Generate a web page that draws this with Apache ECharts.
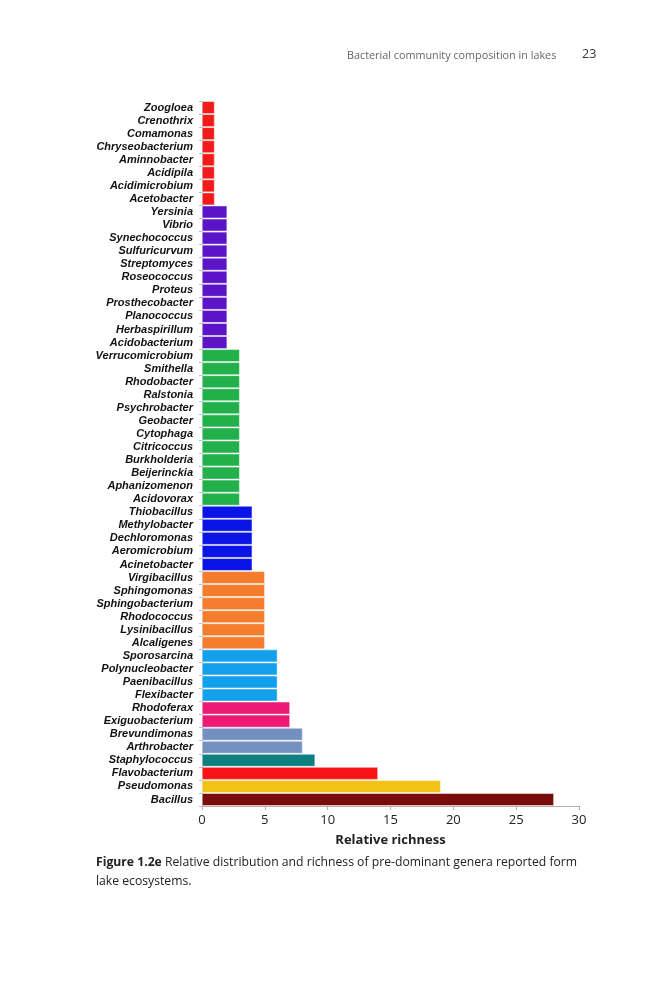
<!DOCTYPE html>
<html>
<head>
<meta charset="utf-8">
<script src="https://cdn.jsdelivr.net/npm/echarts@6/dist/echarts.min.js"></script>
<style>
html, body { margin: 0; padding: 0; background: #fff; }
#echarts_id { width: 666px; height: 1000px; }
</style>
</head>
<body>
<div id="echarts_id"></div>
<script>
// 属名（自上而下）
var genera = [
    'Zoogloea', 'Crenothrix', 'Comamonas', 'Chryseobacterium', 'Aminnobacter', 'Acidipila', 'Acidimicrobium', 'Acetobacter',
    'Yersinia', 'Vibrio', 'Synechococcus', 'Sulfuricurvum', 'Streptomyces', 'Roseococcus', 'Proteus', 'Prosthecobacter',
    'Planococcus', 'Herbaspirillum', 'Acidobacterium',
    'Verrucomicrobium', 'Smithella', 'Rhodobacter', 'Ralstonia', 'Psychrobacter', 'Geobacter', 'Cytophaga', 'Citricoccus',
    'Burkholderia', 'Beijerinckia', 'Aphanizomenon', 'Acidovorax',
    'Thiobacillus', 'Methylobacter', 'Dechloromonas', 'Aeromicrobium', 'Acinetobacter',
    'Virgibacillus', 'Sphingomonas', 'Sphingobacterium', 'Rhodococcus', 'Lysinibacillus', 'Alcaligenes',
    'Sporosarcina', 'Polynucleobacter', 'Paenibacillus', 'Flexibacter',
    'Rhodoferax', 'Exiguobacterium',
    'Brevundimonas', 'Arthrobacter',
    'Staphylococcus', 'Flavobacterium', 'Pseudomonas', 'Bacillus'
];

// 相对丰富度
var richness = [
    1, 1, 1, 1, 1, 1, 1, 1,
    2, 2, 2, 2, 2, 2, 2, 2, 2, 2, 2,
    3, 3, 3, 3, 3, 3, 3, 3, 3, 3, 3, 3,
    4, 4, 4, 4, 4,
    5, 5, 5, 5, 5, 5,
    6, 6, 6, 6,
    7, 7,
    8, 8,
    9, 14, 19, 28
];

// 每根柱子的颜色
var barColors = [
    '#f31a1a', '#f31a1a', '#f31a1a', '#f31a1a', '#f31a1a', '#f31a1a', '#f31a1a', '#f31a1a',
    '#5b14c8', '#5b14c8', '#5b14c8', '#5b14c8', '#5b14c8', '#5b14c8', '#5b14c8', '#5b14c8', '#5b14c8', '#5b14c8', '#5b14c8',
    '#22b04b', '#22b04b', '#22b04b', '#22b04b', '#22b04b', '#22b04b', '#22b04b', '#22b04b', '#22b04b', '#22b04b', '#22b04b', '#22b04b',
    '#0a14e6', '#0a14e6', '#0a14e6', '#0a14e6', '#0a14e6',
    '#f57e2e', '#f57e2e', '#f57e2e', '#f57e2e', '#f57e2e', '#f57e2e',
    '#12a0ec', '#12a0ec', '#12a0ec', '#12a0ec',
    '#ec1a73', '#ec1a73',
    '#7390c0', '#7390c0',
    '#0e8080', '#f81414', '#f2c314', '#7a0c0c'
];

var xTicks = [0, 5, 10, 15, 20, 25, 30];

var myChart = echarts.init(document.getElementById('echarts_id'));

var barData = richness.map(function (v, i) {
    return { value: v, itemStyle: { color: barColors[i] } };
});

option = {
    backgroundColor: '#ffffff',
    animation: false,
    grid: { left: 202, right: 87, top: 101, bottom: 194 },
    xAxis: {
        type: 'value',
        min: xTicks[0],
        max: xTicks[xTicks.length - 1],
        interval: 5,
        name: 'Relative richness',
        nameLocation: 'middle',
        nameGap: 28,
        nameTextStyle: { fontFamily: 'Open Sans', fontWeight: 'bold', fontSize: 13, color: '#222' },
        axisLine: { show: true, lineStyle: { color: '#b0b0b0', width: 1 } },
        axisTick: { show: true, length: 4, lineStyle: { color: '#b0b0b0' } },
        axisLabel: { fontFamily: 'Open Sans', fontSize: 13, color: '#222', margin: 8 },
        splitLine: { show: false }
    },
    yAxis: {
        type: 'category',
        inverse: true,
        data: genera,
        axisLine: { show: true, lineStyle: { color: '#a8c8e0', width: 1 } },
        axisTick: { show: true, length: 3, lineStyle: { color: '#a8c8e0' } },
        axisLabel: {
            interval: 0,
            fontFamily: 'Liberation Sans',
            fontStyle: 'italic',
            fontWeight: 'bold',
            fontSize: 11,
            color: '#111',
            margin: 9
        }
    },
    series: [{
        name: 'Relative richness',
        type: 'bar',
        data: barData,
        barCategoryGap: '4%',
        itemStyle: { borderColor: '#ffffff', borderWidth: 0.5 }
    }],
    graphic: [
        {
            type: 'text', left: 347, top: 50,
            style: { text: 'Bacterial community composition in lakes', fontFamily: 'Open Sans', fontSize: 10.8, fill: '#666' }
        },
        {
            type: 'text', left: 582, top: 48,
            style: { text: '23', fontFamily: 'Open Sans', fontSize: 12.5, fill: '#333' }
        },
        {
            type: 'text', left: 96, top: 853,
            style: {
                text: '{b|Figure 1.2e} Relative distribution and richness of pre-dominant genera reported form\nlake ecosystems.',
                fontFamily: 'Open Sans', fontSize: 12.2, lineHeight: 19, fill: '#222',
                rich: { b: { fontFamily: 'Open Sans', fontWeight: 'bold', fontSize: 12.2, fill: '#222' } }
            }
        }
    ]
};

myChart.setOption(option);
</script>
</body>
</html>
